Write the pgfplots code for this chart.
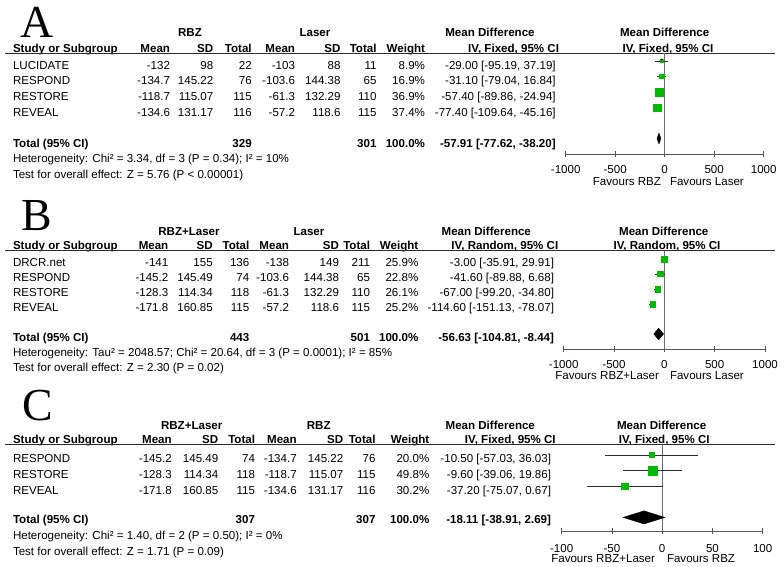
\documentclass[border=0pt]{standalone}
\usepackage{fontspec}
\setmainfont{Liberation Sans}
\newfontfamily\letterfont{Liberation Serif}
\usepackage{pgfplots}
\usepackage{pgfplotstable}
\pgfplotsset{compat=1.18}

\definecolor{sqgreen}{RGB}{0,185,0}
\definecolor{axgray}{RGB}{85,85,85}
\definecolor{zgray}{RGB}{110,110,110}
\definecolor{cigray}{RGB}{45,45,45}

% study rows: row index, mean difference, CI, weight (%)
\pgfplotstableread{
row md lo hi w
1 -29.00 -95.19 37.19 8.9
2 -31.10 -79.04 16.84 16.9
3 -57.40 -89.86 -24.94 36.9
4 -77.40 -109.64 -45.16 37.4
}\tabA
\pgfplotstableread{
row md lo hi w
1 -3.00 -35.91 29.91 25.9
2 -41.60 -89.88 6.68 22.8
3 -67.00 -99.20 -34.80 26.1
4 -114.60 -151.13 -78.07 25.2
}\tabB
\pgfplotstableread{
row md lo hi w
1 -10.50 -57.03 36.03 20.0
2 -9.60 -39.06 19.86 49.8
3 -37.20 -75.07 0.67 30.2
}\tabC

\newcommand\fs{\fontsize{11.6}{13}\selectfont}
\tikzset{
  t/.style={inner sep=0pt, outer sep=0pt, font=\fs},
  l/.style={t, anchor=base west},
  r/.style={t, anchor=base east},
  c/.style={t, anchor=base},
  big/.style={t, anchor=base west, font=\letterfont\fontsize{46}{46}\selectfont},
}
\pgfplotsset{
  fp/.style={scale only axis, anchor=north west, y dir=reverse, clip=false,
    axis x line=bottom, axis y line=none,
    x axis line style={-, draw=axgray, line width=0.8bp},
    tick align=center, major tick length=6bp,
    xtick style={draw=axgray, line width=0.8bp},
    xticklabel style={font=\fs, anchor=base, inner sep=0pt, yshift=-16.4bp}},
  ci/.style={only marks, mark=none, forget plot,
    error bars/.cd, x dir=both, x explicit, error mark=none,
    error bar style={cigray, line width=0.8bp}},
  sq/.style={scatter, only marks, mark=square*,
    scatter/use mapped color={draw=sqgreen, fill=sqgreen},
    visualization depends on={\thisrow{w} \as \wt},
    scatter/@pre marker code/.append style={/tikz/mark size={0.25*pow(\wt,0.75)}}},
}

\newcommand\rowL[8]{%
  \node[l] at (13,#1) {#2};
  \node[r] at (\colA,#1) {#3};
  \node[r] at (\colB,#1) {#4};
  \node[r] at (\colC,#1) {#5};
  \node[r] at (\colD,#1) {#6};
  \node[r] at (\colE,#1) {#7};
  \node[r] at (\colF,#1) {#8};}
\newcommand\rowR[3]{%
  \node[r] at (\colG,#1) {#2};
  \node[r] at (\colH,#1) {#3};}

\begin{document}
\begin{tikzpicture}
\useasboundingbox (0,0) rectangle (780bp,-567bp);

\begin{scope}[x=1bp, y=-1bp]
% ---------------- A ----------------
\def\colA{170}\def\colB{213.3}\def\colC{251.7}\def\colD{295}
\def\colE{340.5}\def\colF{376.5}\def\colG{425}\def\colH{555.7}
\node[big] at (20,37) {A};
\node[c] at (190,36.7) {\bfseries RBZ};
\node[c] at (315,36.7) {\bfseries Laser};
\node[c] at (490,36.7) {\bfseries Mean Difference};
\node[c] at (664.7,36.7) {\bfseries Mean Difference};
\rowL{52}{\bfseries Study or Subgroup}{\bfseries Mean}{\bfseries SD}{\bfseries Total}{\bfseries Mean}{\bfseries SD}{\bfseries Total}
\node[r] at (\colG,52) {\bfseries Weight};
\node[r] at (559,52) {\bfseries IV, Fixed, 95\% CI};
\node[c] at (668,52) {\bfseries IV, Fixed, 95\% CI};
\draw[cigray, line width=1bp] (5,53.2) -- (775,53.2);
\rowL{69}{LUCIDATE}{-132}{98}{22}{-103}{88}{11}
\rowR{69}{8.9\%}{-29.00 [-95.19, 37.19]}
\rowL{84.7}{RESPOND}{-134.7}{145.22}{76}{-103.6}{144.38}{65}
\rowR{84.7}{16.9\%}{-31.10 [-79.04, 16.84]}
\rowL{100.4}{RESTORE}{-118.7}{115.07}{115}{-61.3}{132.29}{110}
\rowR{100.4}{36.9\%}{-57.40 [-89.86, -24.94]}
\rowL{116.1}{REVEAL}{-134.6}{131.17}{116}{-57.2}{118.6}{115}
\rowR{116.1}{37.4\%}{-77.40 [-109.64, -45.16]}
\node[l] at (13,147) {\bfseries Total (95\% CI)};
\node[r] at (\colC,147) {\bfseries 329};
\node[r] at (\colF,147) {\bfseries 301};
\rowR{147}{\bfseries 100.0\%}{\bfseries -57.91 [-77.62, -38.20]}
\node[l] at (13,162.5) {Heterogeneity: Chi² = 3.34, df = 3 (P = 0.34); I² = 10\%};
\node[l] at (13,178.3) {Test for overall effect: Z = 5.76 (P < 0.00001)};
\node[r] at (661,185) {Favours RBZ};
\node[l] at (670,185) {Favours Laser};

% ---------------- B ----------------
\def\colA{168.3}\def\colB{212.7}\def\colC{249.3}\def\colD{289}
\def\colE{339}\def\colF{370}\def\colG{418.3}\def\colH{554}
\node[big] at (21,230) {B};
\node[c] at (189,235) {\bfseries RBZ+Laser};
\node[c] at (309,235) {\bfseries Laser};
\node[c] at (486.3,235) {\bfseries Mean Difference};
\node[c] at (663.8,235) {\bfseries Mean Difference};
\rowL{249.5}{\bfseries Study or Subgroup}{\bfseries Mean}{\bfseries SD}{\bfseries Total}{\bfseries Mean}{\bfseries SD}{\bfseries Total}
\node[r] at (\colG,249.5) {\bfseries Weight};
\node[r] at (558.3,249.5) {\bfseries IV, Random, 95\% CI};
\node[c] at (667,249.5) {\bfseries IV, Random, 95\% CI};
\draw[cigray, line width=1bp] (5,250.8) -- (775,250.8);
\rowL{266}{DRCR.net}{-141}{155}{136}{-138}{149}{211}
\rowR{266}{25.9\%}{-3.00 [-35.91, 29.91]}
\rowL{281}{RESPOND}{-145.2}{145.49}{74}{-103.6}{144.38}{65}
\rowR{281}{22.8\%}{-41.60 [-89.88, 6.68]}
\rowL{296}{RESTORE}{-128.3}{114.34}{118}{-61.3}{132.29}{110}
\rowR{296}{26.1\%}{-67.00 [-99.20, -34.80]}
\rowL{311}{REVEAL}{-171.8}{160.85}{115}{-57.2}{118.6}{115}
\rowR{311}{25.2\%}{-114.60 [-151.13, -78.07]}
\node[l] at (13,341) {\bfseries Total (95\% CI)};
\node[r] at (\colC,341) {\bfseries 443};
\node[r] at (\colF,341) {\bfseries 501};
\rowR{341}{\bfseries 100.0\%}{\bfseries -56.63 [-104.81, -8.44]}
\node[l] at (13,356) {Heterogeneity: Tau² = 2048.57; Chi² = 20.64, df = 3 (P = 0.0001); I² = 85\%};
\node[l] at (13,371) {Test for overall effect: Z = 2.30 (P = 0.02)};
\node[r] at (659,379.5) {Favours RBZ+Laser};
\node[l] at (670,379.5) {Favours Laser};

% ---------------- C ----------------
\def\colA{171.7}\def\colB{218.3}\def\colC{255}\def\colD{296.7}
\def\colE{343.3}\def\colF{375.5}\def\colG{429.3}\def\colH{551}
\node[big] at (22,420.7) {C};
\node[c] at (191.7,429.3) {\bfseries RBZ+Laser};
\node[c] at (318.7,429.3) {\bfseries RBZ};
\node[c] at (490.3,429.3) {\bfseries Mean Difference};
\node[c] at (661.7,429.3) {\bfseries Mean Difference};
\rowL{443.3}{\bfseries Study or Subgroup}{\bfseries Mean}{\bfseries SD}{\bfseries Total}{\bfseries Mean}{\bfseries SD}{\bfseries Total}
\node[r] at (\colG,443.3) {\bfseries Weight};
\node[r] at (555.7,443.3) {\bfseries IV, Fixed, 95\% CI};
\node[c] at (664.2,443.3) {\bfseries IV, Fixed, 95\% CI};
\draw[cigray, line width=1bp] (5,444.6) -- (775,444.6);
\rowL{462.3}{RESPOND}{-145.2}{145.49}{74}{-134.7}{145.22}{76}
\rowR{462.3}{20.0\%}{-10.50 [-57.03, 36.03]}
\rowL{478.3}{RESTORE}{-128.3}{114.34}{118}{-118.7}{115.07}{115}
\rowR{478.3}{49.8\%}{-9.60 [-39.06, 19.86]}
\rowL{494}{REVEAL}{-171.8}{160.85}{115}{-134.6}{131.17}{116}
\rowR{494}{30.2\%}{-37.20 [-75.07, 0.67]}
\node[l] at (13,523.3) {\bfseries Total (95\% CI)};
\node[r] at (\colC,523.3) {\bfseries 307};
\node[r] at (\colF,523.3) {\bfseries 307};
\rowR{523.3}{\bfseries 100.0\%}{\bfseries -18.11 [-38.91, 2.69]}
\node[l] at (13,539.3) {Heterogeneity: Chi² = 1.40, df = 2 (P = 0.50); I² = 0\%};
\node[l] at (13,555) {Test for overall effect: Z = 1.71 (P = 0.09)};
\node[r] at (655,562.7) {Favours RBZ+Laser};
\node[l] at (667,562.7) {Favours RBZ};
\end{scope}

% ---------------- forest plots ----------------
\begin{axis}[fp, at={(565.7bp,-53.2bp)}, width=198bp, height=101.1bp,
  xmin=-1000, xmax=1000, ymin=0.497, ymax=7.019,
  xtick={-1000,-500,0,500,1000}, xticklabels={-1000,-500,0,500,1000}]
\addplot[zgray, line width=0.8bp, forget plot] coordinates {(0,0.497) (0,7.019)};
\addplot[ci] table[x=md, y=row, x error plus expr=\thisrow{hi}-\thisrow{md},
  x error minus expr=\thisrow{md}-\thisrow{lo}] {\tabA};
\addplot[sq] table[x=md, y=row] {\tabA};
\addplot[fill=black, draw=black] coordinates {(-77.62,6) (-57.91,5.65) (-38.20,6) (-57.91,6.35)} -- cycle;
\end{axis}

\begin{axis}[fp, at={(563.7bp,-250.8bp)}, width=201.3bp, height=98.2bp,
  xmin=-1000, xmax=1000, ymin=0.453, ymax=7.0,
  xtick={-1000,-500,0,500,1000}, xticklabels={-1000,-500,0,500,1000}]
\addplot[zgray, line width=0.8bp, forget plot] coordinates {(0,0.453) (0,7.0)};
\addplot[ci] table[x=md, y=row, x error plus expr=\thisrow{hi}-\thisrow{md},
  x error minus expr=\thisrow{md}-\thisrow{lo}] {\tabB};
\addplot[sq] table[x=md, y=row] {\tabB};
\addplot[fill=black, draw=black] coordinates {(-104.81,6) (-56.63,5.61) (-8.44,6) (-56.63,6.39)} -- cycle;
\end{axis}

\begin{axis}[fp, at={(561.7bp,-444.6bp)}, width=201bp, height=86.4bp,
  xmin=-100, xmax=100, ymin=0.333, ymax=5.872,
  xtick={-100,-50,0,50,100}, xticklabels={-100,-50,0,50,100},
  xticklabel style={yshift=-2bp}]
\addplot[zgray, line width=0.8bp, forget plot] coordinates {(0,0.333) (0,5.872)};
\addplot[ci] table[x=md, y=row, x error plus expr=\thisrow{hi}-\thisrow{md},
  x error minus expr=\thisrow{md}-\thisrow{lo}] {\tabC};
\addplot[sq] table[x=md, y=row] {\tabC};
\addplot[fill=black, draw=black] coordinates {(-38.91,5) (-18.11,4.58) (2.69,5) (-18.11,5.42)} -- cycle;
\end{axis}
\end{tikzpicture}
\end{document}
